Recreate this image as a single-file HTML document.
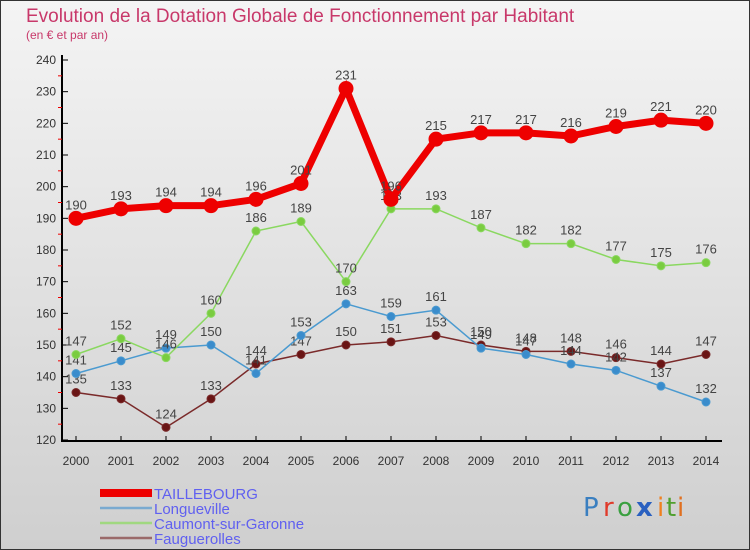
<!DOCTYPE html>
<html><head><meta charset="utf-8"><style>
body{margin:0;width:750px;height:550px;overflow:hidden;font-family:"Liberation Sans",sans-serif}
#c{position:absolute;left:0;top:0;width:750px;height:550px}
</style></head><body>
<svg id="c" width="750" height="550">
<defs><linearGradient id="bg" x1="0" y1="0" x2="0" y2="1"><stop offset="0" stop-color="#f4f4f4"/><stop offset="1" stop-color="#cfcfcf"/></linearGradient></defs>
<rect x="0.5" y="0.5" width="749" height="549" fill="url(#bg)" stroke="#333"/>
<text x="26" y="22" font-size="19" fill="#c8386a">Evolution de la Dotation Globale de Fonctionnement par Habitant</text>
<text x="26" y="39" font-size="12" fill="#c8386a">(en € et par an)</text>
<g id="axes"></g><g id="series"></g><g id="legend"></g>
<g font-size="26" font-family="'DejaVu Sans',sans-serif">
<text x="583" y="516" fill="#3a7fc0">P</text><text x="603" y="516" fill="#e03a2a">r</text><text x="617" y="516" fill="#3aa040">o</text><text x="636" y="516" fill="#2a60c0" font-weight="bold">x</text><text x="657" y="516" fill="#f08020">i</text><text x="666" y="516" fill="#50a030">t</text><text x="677" y="516" fill="#e07020">i</text></g>
</svg>
<script>
const years=[2000,2001,2002,2003,2004,2005,2006,2007,2008,2009,2010,2011,2012,2013,2014];
const taillebourg=[190,193,194,194,196,201,231,196,215,217,217,216,219,221,220];
const longueville=[141,145,149,150,141,153,163,159,161,149,147,144,142,137,132];
const caumont=[147,152,146,160,186,189,170,193,193,187,182,182,177,175,176];
const faugue=[135,133,124,133,144,147,150,151,153,150,148,148,146,144,147];
const yTicks=[120,130,140,150,160,170,180,190,200,210,220,230,240];
const NS="http://www.w3.org/2000/svg";
const xs=i=>76+i*45, ys=v=>60+(240-v)*380/120;
function mk(p,t,a){const e=document.createElementNS(NS,t);for(const k in a)e.setAttribute(k,a[k]);p.appendChild(e);return e;}
const ax=document.getElementById('axes');
let l=mk(ax,'line',{x1:62,y1:55,x2:62,y2:441,stroke:'#000','stroke-width':2});


l=mk(ax,'line',{x1:61,y1:441,x2:722,y2:441,stroke:'#000','stroke-width':2});


yTicks.forEach(v=>{
 mk(ax,'line',{x1:62,y1:ys(v),x2:68,y2:ys(v),stroke:'#000'});
 if(v<240)mk(ax,'line',{x1:58,y1:ys(v+5),x2:62,y2:ys(v+5),stroke:'#e00'});
 const t=mk(ax,'text',{x:56,y:ys(v)+4,'text-anchor':'end','font-size':12,fill:'#333'});t.textContent=v;
 
 
});
years.forEach((y,i)=>{
 mk(ax,'line',{x1:xs(i),y1:436,x2:xs(i),y2:441,stroke:'#000'});
 const t=mk(ax,'text',{x:xs(i),y:465,'text-anchor':'middle','font-size':12,fill:'#333'});t.textContent=y;
 
 
});
const sg=document.getElementById('series');
function draw(d,col,dot,w,r,name){
 const g=mk(sg,'g',{});
 
 
 mk(g,'polyline',{points:d.map((v,i)=>xs(i)+','+ys(v)).join(' '),fill:'none',stroke:col,'stroke-width':w});
 d.forEach((v,i)=>{
  const c=mk(g,'circle',{cx:xs(i),cy:ys(v),r:r,fill:dot,stroke:col,'stroke-width':1});
  
  
  const t=mk(g,'text',{x:xs(i),y:ys(v)-9,'text-anchor':'middle','font-size':13,fill:'#444'});t.textContent=v;
  
  
 });
}
draw(faugue,'#7a2a2a','#6a1515',1.5,4,'faugue');
draw(longueville,'#4a9ad0','#3a8ccc',1.5,4,'longueville');
draw(caumont,'#8ad860','#7acc40',1.5,4,'caumont');
draw(taillebourg,'#e00','#e00',7,7,'taillebourg');
const lg=document.getElementById('legend');
const names=['TAILLEBOURG','Longueville','Caumont-sur-Garonne','Fauguerolles'];
const cols=['#e00','#7aaad0','#a0d880','#9a6a6a'];
const ws=[8,2.5,2.5,2.5];
names.forEach((n,i)=>{
 const y=493+i*15;
 const g=mk(lg,'g',{});
 
 
 mk(g,'line',{x1:100,y1:y,x2:152,y2:y,stroke:cols[i],'stroke-width':ws[i]});
 const t=mk(g,'text',{x:154,y:y+6,'font-size':15,fill:'#6060f0'});t.textContent=n;
});
</script>
</body></html>
